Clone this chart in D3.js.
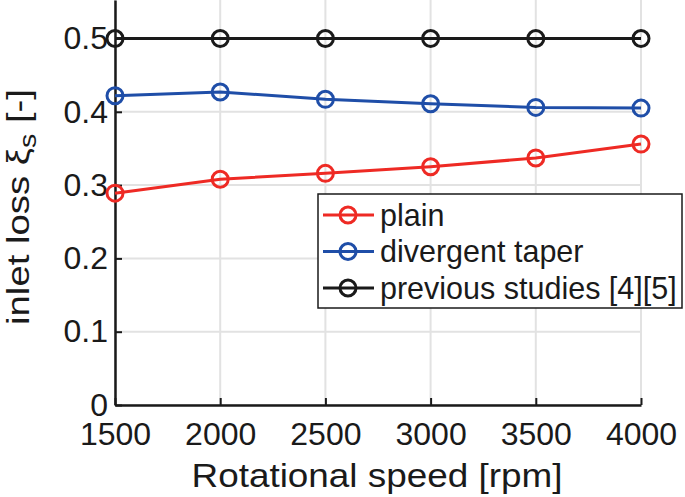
<!DOCTYPE html>
<html>
<head>
<meta charset="utf-8">
<script src="https://cdn.jsdelivr.net/npm/d3@7.9.0/dist/d3.min.js"></script>
<style>
  body { margin: 0; background: #fff; }
  svg text { font-family: "Liberation Sans", Arial, sans-serif; fill: #1a1a1a; }
</style>
</head>
<body>
<svg id="chart" width="685" height="497"></svg>
<script>
const speeds = [1500, 2000, 2500, 3000, 3500, 4000];
const plain = [0.289, 0.308, 0.316, 0.325, 0.337, 0.356];
const divergent = [0.422, 0.427, 0.417, 0.411, 0.406, 0.405];
const previous = [0.5, 0.5, 0.5, 0.5, 0.5, 0.5];
const yTicks = [0, 0.1, 0.2, 0.3, 0.4, 0.5];
const seriesNames = ['plain', 'divergent taper', 'previous studies [4][5]'];
const seriesColors = ['#ee2a24', '#1f4ea8', '#1a1a1a'];

const margin = { left: 115, right: 44, bottom: 92, top: 0 };
const width = 685, height = 497;

const svg = d3.select('#chart');

let x = d3.scaleLinear().domain([1500, 4000]).range([margin.left, width - margin.right]);
let y = d3.scaleLinear().domain([0, 0.5525]).range([height - margin.bottom, margin.top]);

// grid
svg.append('g').selectAll('line').data(speeds).join('line')
    .attr('x1', d => x(d)).attr('x2', d => x(d))
    .attr('y1', y.range()[0]).attr('y2', y.range()[1])
    .attr('stroke', '#e2e2e2').attr('stroke-width', 2);
svg.append('g').selectAll('line').data(yTicks).join('line')
    .attr('x1', x.range()[0]).attr('x2', x.range()[1])
    .attr('y1', d => y(d)).attr('y2', d => y(d))
    .attr('stroke', '#e2e2e2').attr('stroke-width', 2);

// axes (MATLAB style, ticks inward)
let xAxis = svg.append('g')
    .attr('transform', `translate(0,${y(0)})`)
    .call(d3.axisBottom(x).tickValues(speeds).tickSizeInner(-7).tickSizeOuter(0).tickPadding(18).tickFormat(d3.format('d')));
let yAxis = svg.append('g')
    .attr('transform', `translate(${x(1500)},0)`)
    .call(d3.axisLeft(y).tickValues(yTicks).tickSizeInner(-7).tickSizeOuter(0).tickPadding(7).tickFormat(d => d === 0 ? '0' : d3.format('.1f')(d)));

[xAxis, yAxis].forEach(a => {
    a.select('.domain').attr('stroke', '#1a1a1a').attr('stroke-width', 2.5);
    a.selectAll('.tick line').attr('stroke', '#1a1a1a').attr('stroke-width', 2);
    a.selectAll('.tick text').style('font-size', '32px').attr('fill', '#1a1a1a');
});
xAxis.selectAll('.tick text').attr('dy', '0.7em');

// series
let series = [plain, divergent, previous];
let line = d3.line().x((d, i) => x(speeds[i])).y(d => y(d));

series.forEach((vals, k) => {
    let g = svg.append('g');
    g.append('path').datum(vals)
        .attr('d', line)
        .attr('fill', 'none')
        .attr('stroke', seriesColors[k])
        .attr('stroke-width', 3);
    g.selectAll('circle').data(vals).join('circle')
        .attr('cx', (d, i) => x(speeds[i]))
        .attr('cy', d => y(d))
        .attr('r', 8)
        .attr('fill', 'none')
        .attr('stroke', seriesColors[k])
        .attr('stroke-width', 3);
});

// axis labels
svg.append('text')
    .attr('x', 377)
    .attr('y', 487)
    .attr('text-anchor', 'middle')
    .attr('textLength', 371)
    .attr('lengthAdjust', 'spacingAndGlyphs')
    .style('font-size', '34px')
    .text('Rotational speed [rpm]');

let yl = svg.append('text')
    .attr('transform', 'translate(29,207) rotate(-90)')
    .attr('text-anchor', 'middle')
    .attr('textLength', 236)
    .attr('lengthAdjust', 'spacingAndGlyphs')
    .style('font-size', '31px');
yl.append('tspan').text('inlet loss ');
yl.append('tspan').text('ξ');
yl.append('tspan').attr('baseline-shift', '-30%').style('font-size', '23px').text('s');
yl.append('tspan').text(' [-]');

// legend
let legend = svg.append('g').attr('transform', 'translate(318,194)');
legend.append('rect')
    .attr('width', 364).attr('height', 114)
    .attr('fill', '#fff').attr('stroke', '#1a1a1a').attr('stroke-width', 1.5);
let items = legend.selectAll('g.item').data(seriesNames).join('g')
    .attr('class', 'item')
    .attr('transform', (d, i) => `translate(0,${21 + i * 36.5})`);
items.append('line')
    .attr('x1', 5).attr('x2', 56).attr('y1', 0).attr('y2', 0)
    .attr('stroke', (d, i) => seriesColors[i]).attr('stroke-width', 3);
items.append('circle')
    .attr('cx', 30).attr('cy', 0).attr('r', 8)
    .attr('fill', 'none')
    .attr('stroke', (d, i) => seriesColors[i]).attr('stroke-width', 3);
items.append('text')
    .attr('x', 62).attr('dy', '0.35em')
    .style('font-size', '30.5px')
    .text(d => d);
</script>
</body>
</html>
